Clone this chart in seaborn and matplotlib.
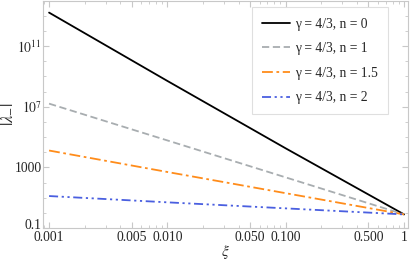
import numpy as np
import pandas as pd
import seaborn as sns
import matplotlib
matplotlib.use("Agg")
import matplotlib.pyplot as plt
import matplotlib.transforms as mtransforms
from matplotlib.ticker import FixedLocator, FixedFormatter, LogLocator, NullFormatter

# values (log-log, straight lines)
xi = [0.001, 0.01, 0.1, 1.0]
lam_n0 = [1.6e13, 5.0e8, 1.8e4, 0.8]
lam_n1 = [1.6e7, 6.0e4, 2.2e2, 0.8]
lam_n15 = [1.3e4, 5.0e2, 2.0e1, 0.8]
lam_n2 = [13.0, 5.0, 2.0, 0.8]
labels = ["γ = 4/3, n = 0", "γ = 4/3, n = 1", "γ = 4/3, n = 1.5", "γ = 4/3, n = 2"]

colors = ["#000000", "#a8adb0", "#ff8c1a", "#4a5fe0"]
dashes = [(None, None), (4, 2), (6, 2, 1.5, 2), (5, 2, 1.2, 2, 1.2, 2)]

sns.set_style("ticks")
plt.rcParams['font.family'] = ['Liberation Serif', 'DejaVu Serif']
plt.rcParams['mathtext.fontset'] = 'stix'

fig = plt.figure(figsize=(4.11, 2.61), dpi=100)
ax = fig.add_axes([0.105, 0.126, 0.888, 0.872])

series = [lam_n0, lam_n1, lam_n15, lam_n2]
for vals, lab, c, d in zip(series, labels, colors, dashes):
    df = pd.DataFrame({"xi": xi, "lam": vals})
    line = sns.lineplot(data=df, x="xi", y="lam", ax=ax, color=c, lw=1.3, label=lab)
    if d[0] is not None:
        line.get_lines()[-1].set_dashes(d)

ax.set_xscale("log")
ax.set_yscale("log")
ax.set_xlim(10 ** -3.05, 10 ** 0.034)
ax.set_ylim(0.1, 1e14)

xt = [0.001, 0.005, 0.01, 0.05, 0.1, 0.5, 1]
ax.xaxis.set_major_locator(FixedLocator(xt))
ax.xaxis.set_major_formatter(FixedFormatter(["0.001", "0.005", "0.010", "0.050", "0.100", "0.500", "1"]))
ax.xaxis.set_minor_locator(LogLocator(base=10, subs=np.arange(2, 10)))
ax.xaxis.set_minor_formatter(NullFormatter())

yt = [0.1, 1e3, 1e7, 1e11]
ax.yaxis.set_major_locator(FixedLocator(yt))
ax.yaxis.set_major_formatter(FixedFormatter(["0.1", "1000", "$10^{7}$", "$10^{11}$"]))
ax.yaxis.set_minor_locator(FixedLocator([10.0 ** k for k in range(-1, 15)]))
ax.yaxis.set_minor_formatter(NullFormatter())

for s in ax.spines.values():
    s.set_color("#c8c8c8")
    s.set_linewidth(0.8)
ax.tick_params(which="both", direction="in", color="#c8c8c8", labelsize=9.8,
               top=True, right=True, pad=2)
ax.tick_params(axis="y", pad=1)
ax.tick_params(which="major", length=4)
ax.tick_params(which="minor", length=2)

# nudge the bottom y label up a little so it clears the 0.001 label
fig.canvas.draw()
lbl = ax.get_yticklabels()[0]
lbl.set_transform(lbl.get_transform() + mtransforms.ScaledTranslation(0, 3 / 72, fig.dpi_scale_trans))

ax.set_xlabel(r"$\xi$", fontsize=11, labelpad=-1)
ax.set_ylabel(r"$|\lambda_{-}|$", fontsize=12, labelpad=0)

leg = ax.legend(loc="upper right", fontsize=9.8, frameon=True, fancybox=False,
                handlelength=2.0, handletextpad=0.4, borderpad=0.75, labelspacing=0.85,
                borderaxespad=0, bbox_to_anchor=(0.945, 0.97))
leg.get_frame().set_edgecolor("#d8d8d8")
leg.get_frame().set_linewidth(0.8)

plt.savefig("out.png", dpi=100)
plt.close()
